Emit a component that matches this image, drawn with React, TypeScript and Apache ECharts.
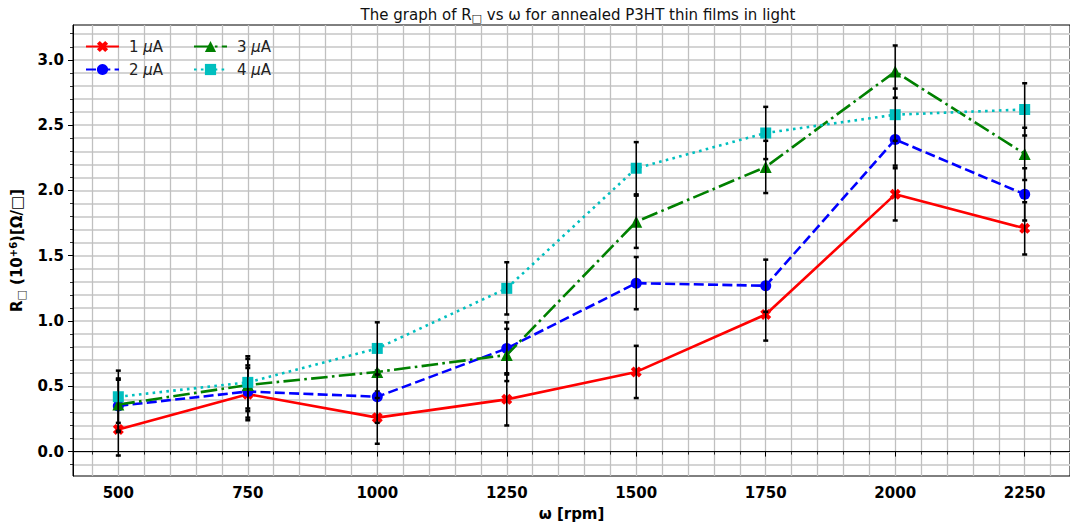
import React, { useEffect, useRef } from "react";
import * as echarts from "echarts";

// rotation speeds (rpm)
const speeds = [500, 750, 1000, 1250, 1500, 1750, 2000, 2250];

// sheet resistance (10^6 Ω/□) for each current
const r1uA = [0.17, 0.44, 0.26, 0.4, 0.61, 1.05, 1.97, 1.71];
const r2uA = [0.35, 0.46, 0.42, 0.79, 1.29, 1.27, 2.39, 1.97];
const r3uA = [0.36, 0.51, 0.61, 0.74, 1.76, 2.18, 2.91, 2.28];
const r4uA = [0.42, 0.53, 0.79, 1.25, 2.17, 2.44, 2.58, 2.62];

// error bar half-heights
const e1uA = [0.2, 0.2, 0.2, 0.2, 0.2, 0.2, 0.2, 0.2];
const e2uA = [0.2, 0.2, 0.2, 0.2, 0.2, 0.2, 0.2, 0.2];
const e3uA = [0.2, 0.2, 0.2, 0.2, 0.2, 0.2, 0.2, 0.2];
const e4uA = [0.2, 0.2, 0.2, 0.2, 0.2, 0.2, 0.2, 0.2];

const seriesNames = ["1 μA", "2 μA", "3 μA", "4 μA"];

// axis ticks
const xMajorTicks = [500, 750, 1000, 1250, 1500, 1750, 2000, 2250];
const yMajorTicks = [0, 0.5, 1.0, 1.5, 2.0, 2.5, 3.0];
const X_MIN = 412.5;
const X_MAX = 2337.5;
const Y_MIN = -0.187;
const Y_MAX = 3.267;

// minor ticks every 50 rpm and every 0.1 unit
const xMinorTicks: number[] = [];
for (let v = 450; v <= 2300; v += 50) xMinorTicks.push(v);
const yMinorTicks: number[] = [];
for (let i = -1; i <= 32; i++) yMinorTicks.push(i / 10);

const FONT = "DejaVu Sans";

// filled, thick "X" marker
const X_MARK =
  "path://M2.6,0 L5,2.4 L7.4,0 L10,2.6 L7.6,5 L10,7.4 L7.4,10 L5,7.6 L2.6,10 L0,7.4 L2.4,5 L0,2.6 Z";

const LW = 2.6;
const styles = [
  { color: "#ff0000", type: "solid" as any, symbol: X_MARK, size: 11 },
  { color: "#0000ff", type: [10, 4.3], symbol: "circle", size: 11 },
  { color: "#008000", type: [16.6, 4.3, 2.6, 4.3], symbol: "triangle", size: 12 },
  { color: "#00bfbf", type: [2.6, 4.3], symbol: "rect", size: 11 },
];

export default function App() {
  const ref = useRef<HTMLDivElement>(null);

  useEffect(() => {
    if (!ref.current) return;
    const chart = echarts.init(ref.current, null, { renderer: "svg" });

    const values = [r1uA, r2uA, r3uA, r4uA];
    const errors = [e1uA, e2uA, e3uA, e4uA];

    const series: any[] = [];
    values.forEach((vals, i) => {
      const st = styles[i];
      series.push({
        name: seriesNames[i],
        type: "line",
        xAxisIndex: 0,
        yAxisIndex: 0,
        data: speeds.map((s, k) => [s, vals[k]]),
        symbol: st.symbol,
        symbolSize: st.size,
        showSymbol: true,
        lineStyle: { color: st.color, width: LW, type: st.type, cap: "butt" },
        itemStyle: { color: st.color, borderWidth: 0 },
        z: 2 + i * 2,
        silent: true,
      });
      series.push({
        type: "custom",
        xAxisIndex: 0,
        yAxisIndex: 0,
        z: 3 + i * 2,
        silent: true,
        data: speeds.map((s, k) => [s, vals[k], errors[i][k]]),
        renderItem: (_p: any, api: any) => {
          const x = api.value(0);
          const y = api.value(1);
          const e = api.value(2);
          const top = api.coord([x, y + e]);
          const bot = api.coord([x, y - e]);
          return {
            type: "group",
            children: [
              {
                type: "line",
                shape: { x1: top[0], y1: top[1], x2: bot[0], y2: bot[1] },
                style: { stroke: "#000", lineWidth: 1.5 },
              },
              {
                type: "rect",
                shape: { x: top[0] - 2.5, y: top[1] - 1.25, width: 5, height: 2.5 },
                style: { fill: "#000" },
              },
              {
                type: "rect",
                shape: { x: bot[0] - 2.5, y: bot[1] - 1.25, width: 5, height: 2.5 },
                style: { fill: "#000" },
              },
            ],
          };
        },
      });
    });

    const legendCommon = {
      orient: "vertical",
      itemWidth: 33,
      itemHeight: 14,
      itemGap: 8,
      top: 34,
      textStyle: {
        fontFamily: FONT,
        fontSize: 15,
        color: "#222",
        padding: [0, 0, 0, 5],
        rich: {
          i: { fontFamily: FONT, fontSize: 15, fontStyle: "italic", color: "#222" },
        },
      },
      formatter: (name: string) => `${name.split(" ")[0]} {i|μ}A`,
    };

    chart.setOption({
      animation: false,
      backgroundColor: "#fff",
      title: {
        text: "The graph of R{sub|□} vs ω for annealed P3HT thin films in light",
        left: 573,
        textAlign: "center",
        top: 0,
        textStyle: {
          fontFamily: FONT,
          fontSize: 15,
          fontWeight: "normal",
          color: "#111",
          rich: {
            sub: {
              fontFamily: FONT,
              fontSize: 11,
              color: "#111",
              padding: [8, 0, 0, 0],
            },
          },
        },
      },
      legend: [
        { ...legendCommon, left: 80, data: [seriesNames[0], seriesNames[1]] },
        { ...legendCommon, left: 188, data: [seriesNames[2], seriesNames[3]] },
      ],
      grid: {
        left: 73,
        top: 25,
        width: 1001,
        height: 451,
        show: true,
        borderColor: "#000",
        borderWidth: 1,
        backgroundColor: "transparent",
      },
      xAxis: [
        {
          type: "value",
          min: X_MIN,
          max: X_MAX,
          position: "bottom",
          axisLine: { show: true, lineStyle: { color: "#000", width: 1 } },
          axisTick: {
            show: true,
            length: 3,
            customValues: xMinorTicks,
            lineStyle: { color: "#000", width: 0.8 },
          },
          axisLabel: { show: false },
          splitLine: { show: true, lineStyle: { color: "#c0c0c0", width: 1.3 } },
        },
        {
          type: "value",
          min: X_MIN,
          max: X_MAX,
          position: "bottom",
          name: "ω [rpm]",
          nameLocation: "middle",
          nameGap: 30,
          nameTextStyle: {
            fontFamily: FONT,
            fontSize: 15,
            fontWeight: "bold",
            color: "#000",
          },
          axisLine: { show: false },
          axisTick: {
            show: true,
            length: 5,
            customValues: xMajorTicks,
            lineStyle: { color: "#000", width: 1 },
          },
          axisLabel: {
            show: true,
            customValues: xMajorTicks,
            formatter: (v: number) => String(v),
            fontFamily: FONT,
            fontSize: 15,
            fontWeight: "bold",
            color: "#000",
            margin: 9,
          },
          splitLine: { show: false },
        },
      ],
      yAxis: [
        {
          type: "value",
          min: Y_MIN,
          max: Y_MAX,
          position: "left",
          axisLine: { show: true, lineStyle: { color: "#000", width: 1 } },
          axisTick: {
            show: true,
            length: 3,
            customValues: yMinorTicks,
            lineStyle: { color: "#000", width: 0.8 },
          },
          axisLabel: { show: false },
          splitLine: { show: true, lineStyle: { color: "#d4d4d4", width: 2 } },
        },
        {
          type: "value",
          min: Y_MIN,
          max: Y_MAX,
          position: "left",
          name: "R{sub|□} (10{sup|+6})[Ω/□]",
          nameLocation: "middle",
          nameRotate: 90,
          nameGap: 44,
          nameTextStyle: {
            fontFamily: FONT,
            fontSize: 15,
            fontWeight: "bold",
            color: "#000",
            rich: {
              sub: { fontFamily: FONT, fontSize: 11, fontWeight: "normal", color: "#333", padding: [8, 0, 0, 0] },
              sup: { fontFamily: FONT, fontSize: 10, fontWeight: "bold", color: "#000", padding: [0, 0, 8, 0] },
            },
          },
          axisLine: { show: false },
          axisTick: {
            show: true,
            length: 5,
            customValues: yMajorTicks,
            lineStyle: { color: "#000", width: 1 },
          },
          axisLabel: {
            show: true,
            customValues: yMajorTicks,
            formatter: (v: number) => v.toFixed(1),
            fontFamily: FONT,
            fontSize: 15,
            fontWeight: "bold",
            color: "#000",
            margin: 9,
          },
          splitLine: { show: false },
        },
      ],
      series,
    });

    return () => chart.dispose();
  }, []);

  return (
    <div
      ref={ref}
      style={{ position: "fixed", left: 0, top: 0, width: 1070, height: 526 }}
    />
  );
}
